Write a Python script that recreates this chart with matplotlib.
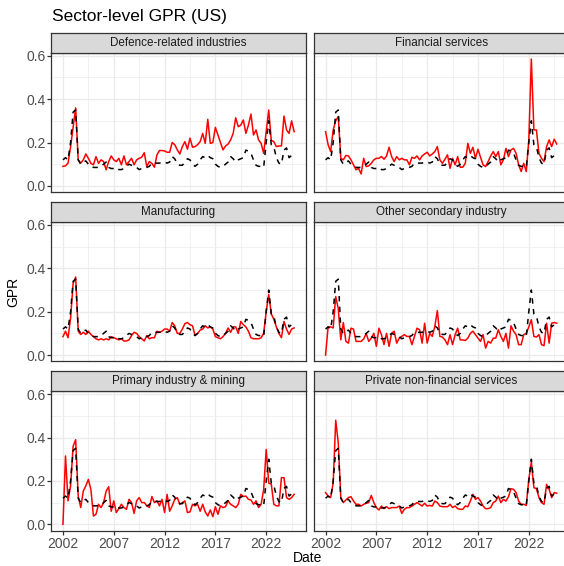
import numpy as np
import pandas as pd
import matplotlib
matplotlib.use('Agg')
import matplotlib.pyplot as plt

plt.rcParams['font.family'] = ['Liberation Sans', 'DejaVu Sans']

# Quarterly index, 2002Q1 - 2024Q4
quarters = pd.period_range('2002Q1', '2024Q4', freq='Q')
date = np.array(quarters.year + (quarters.quarter - 1) / 4.0, dtype=float)

# Aggregate US GPR (dashed, same in every panel)
gpr_total = [0.12, 0.13, 0.12, 0.20, 0.34, 0.35, 0.12, 0.10,
             0.11, 0.115, 0.10, 0.095, 0.085, 0.085, 0.085, 0.09,
             0.10, 0.11, 0.085, 0.08, 0.08, 0.085, 0.075, 0.075,
             0.08, 0.09, 0.10, 0.095, 0.09, 0.085, 0.075, 0.08,
             0.08, 0.085, 0.09, 0.105, 0.105, 0.105, 0.105, 0.11,
             0.11, 0.105, 0.11, 0.135, 0.125, 0.10, 0.095, 0.095,
             0.11, 0.125, 0.12, 0.10, 0.09, 0.10, 0.12, 0.135,
             0.13, 0.14, 0.13, 0.125, 0.10, 0.09, 0.085, 0.09,
             0.10, 0.11, 0.135, 0.125, 0.11, 0.12, 0.125, 0.13,
             0.165, 0.16, 0.15, 0.12, 0.095, 0.09, 0.09, 0.085,
             0.20, 0.30, 0.19, 0.18, 0.13, 0.105, 0.10, 0.165,
             0.175, 0.13, 0.14, 0.15]

defence = [0.09, 0.092, 0.105, 0.18, 0.27, 0.36, 0.12, 0.105,
           0.12, 0.147, 0.127, 0.104, 0.097, 0.135, 0.104, 0.12,
           0.112, 0.074, 0.112, 0.138, 0.12, 0.112, 0.127, 0.097,
           0.138, 0.097, 0.112, 0.127, 0.097, 0.12, 0.127, 0.132,
           0.153, 0.089, 0.112, 0.104, 0.086, 0.143, 0.163, 0.163,
           0.161, 0.155, 0.155, 0.20, 0.19, 0.166, 0.147, 0.181,
           0.204, 0.169, 0.22, 0.178, 0.181, 0.19, 0.204, 0.242,
           0.196, 0.307, 0.196, 0.20, 0.27, 0.235, 0.20, 0.166,
           0.184, 0.193, 0.212, 0.242, 0.314, 0.273, 0.28, 0.304,
           0.242, 0.28, 0.331, 0.235, 0.258, 0.212, 0.196, 0.15,
           0.25, 0.35, 0.21, 0.204, 0.181, 0.184, 0.184, 0.322,
           0.258, 0.242, 0.30, 0.25]

financial = [0.25, 0.19, 0.158, 0.258, 0.30, 0.32, 0.127, 0.12,
             0.14, 0.138, 0.12, 0.097, 0.074, 0.081, 0.055, 0.127,
             0.089, 0.092, 0.104, 0.12, 0.127, 0.127, 0.135, 0.123,
             0.138, 0.178, 0.135, 0.112, 0.135, 0.12, 0.127, 0.12,
             0.12, 0.097, 0.132, 0.127, 0.138, 0.12, 0.138, 0.147,
             0.155, 0.138, 0.147, 0.158, 0.181, 0.12, 0.104, 0.123,
             0.143, 0.081, 0.127, 0.097, 0.135, 0.086, 0.086, 0.104,
             0.196, 0.15, 0.178, 0.127, 0.169, 0.132, 0.097, 0.089,
             0.112, 0.138, 0.158, 0.135, 0.158, 0.097, 0.12, 0.173,
             0.135, 0.166, 0.173, 0.15, 0.097, 0.066, 0.104, 0.066,
             0.21, 0.585, 0.258, 0.258, 0.15, 0.127, 0.112, 0.181,
             0.212, 0.181, 0.215, 0.193]

manufacturing = [0.085, 0.11, 0.08, 0.17, 0.33, 0.36, 0.11, 0.095,
                 0.105, 0.095, 0.11, 0.095, 0.085, 0.075, 0.07, 0.075,
                 0.07, 0.075, 0.07, 0.085, 0.08, 0.075, 0.07, 0.075,
                 0.065, 0.065, 0.07, 0.09, 0.105, 0.10, 0.085, 0.075,
                 0.065, 0.09, 0.075, 0.08, 0.08, 0.11, 0.105, 0.11,
                 0.12, 0.12, 0.11, 0.15, 0.135, 0.10, 0.10, 0.12,
                 0.145, 0.15, 0.14, 0.135, 0.09, 0.10, 0.115, 0.12,
                 0.135, 0.125, 0.13, 0.12, 0.085, 0.08, 0.075, 0.085,
                 0.10, 0.125, 0.105, 0.13, 0.13, 0.10, 0.155, 0.14,
                 0.13, 0.11, 0.08, 0.075, 0.075, 0.075, 0.08, 0.10,
                 0.20, 0.28, 0.19, 0.165, 0.13, 0.10, 0.08, 0.155,
                 0.12, 0.095, 0.12, 0.125]

other_secondary = [0.0, 0.13, 0.13, 0.125, 0.27, 0.215, 0.07, 0.15,
                   0.063, 0.055, 0.124, 0.12, 0.063, 0.063, 0.063, 0.074,
                   0.10, 0.063, 0.078, 0.10, 0.04, 0.124, 0.094, 0.048,
                   0.10, 0.04, 0.10, 0.11, 0.055, 0.078, 0.086, 0.094,
                   0.086, 0.086, 0.048, 0.086, 0.124, 0.117, 0.055, 0.147,
                   0.055, 0.10, 0.086, 0.132, 0.205, 0.086, 0.083, 0.07,
                   0.048, 0.094, 0.048, 0.094, 0.124, 0.07, 0.07, 0.067,
                   0.078, 0.10, 0.11, 0.094, 0.078, 0.063, 0.094, 0.032,
                   0.063, 0.055, 0.078, 0.078, 0.117, 0.086, 0.063, 0.10,
                   0.032, 0.135, 0.11, 0.094, 0.048, 0.048, 0.094, 0.10,
                   0.13, 0.163, 0.086, 0.083, 0.094, 0.048, 0.043, 0.147,
                   0.055, 0.147, 0.15, 0.147]

primary = [0.0, 0.315, 0.108, 0.177, 0.36, 0.39, 0.13, 0.077,
           0.153, 0.177, 0.207, 0.16, 0.038, 0.046, 0.092, 0.077,
           0.10, 0.153, 0.173, 0.06, 0.108, 0.054, 0.072, 0.092,
           0.077, 0.069, 0.115, 0.10, 0.05, 0.108, 0.123, 0.10,
           0.10, 0.085, 0.077, 0.128, 0.10, 0.108, 0.085, 0.115,
           0.054, 0.138, 0.06, 0.085, 0.115, 0.123, 0.092, 0.10,
           0.108, 0.054, 0.057, 0.092, 0.085, 0.092, 0.06, 0.092,
           0.057, 0.038, 0.066, 0.035, 0.081, 0.046, 0.085, 0.077,
           0.081, 0.108, 0.092, 0.085, 0.077, 0.092, 0.138, 0.128,
           0.13, 0.115, 0.112, 0.092, 0.108, 0.077, 0.092, 0.16,
           0.345, 0.19, 0.185, 0.092, 0.085, 0.085, 0.215, 0.215,
           0.123, 0.115, 0.123, 0.138]

private_nonfin = [0.146, 0.13, 0.123, 0.19, 0.48, 0.376, 0.123, 0.10,
                  0.112, 0.123, 0.127, 0.107, 0.092, 0.092, 0.084, 0.092,
                  0.097, 0.10, 0.133, 0.10, 0.077, 0.066, 0.084, 0.072,
                  0.081, 0.072, 0.077, 0.077, 0.077, 0.084, 0.05, 0.069,
                  0.077, 0.077, 0.084, 0.092, 0.10, 0.092, 0.084, 0.097,
                  0.084, 0.087, 0.084, 0.107, 0.10, 0.084, 0.081, 0.081,
                  0.081, 0.092, 0.077, 0.084, 0.072, 0.069, 0.069, 0.084,
                  0.081, 0.107, 0.138, 0.115, 0.123, 0.107, 0.084, 0.072,
                  0.072, 0.077, 0.10, 0.107, 0.13, 0.10, 0.115, 0.107,
                  0.127, 0.164, 0.161, 0.146, 0.107, 0.092, 0.092, 0.087,
                  0.207, 0.287, 0.169, 0.164, 0.123, 0.10, 0.092, 0.184,
                  0.161, 0.123, 0.146, 0.143]

sectors = ['Defence-related industries', 'Financial services',
           'Manufacturing', 'Other secondary industry',
           'Primary industry & mining', 'Private non-financial services']
sector_gpr = [defence, financial, manufacturing, other_secondary,
              primary, private_nonfin]

year_ticks = [2002, 2007, 2012, 2017, 2022]
year_minor = [2004.5, 2009.5, 2014.5, 2019.5, 2024.5]
gpr_ticks = [0.0, 0.2, 0.4, 0.6]
gpr_minor = [0.1, 0.3, 0.5]

# facet layout in pixels
W, H = 564, 566
col_left = [51.4, 314.0]
row_top = [52.7, 221.9, 391.1]
pw, ph, sh = 254.3, 139.5, 20.0

fig = plt.figure(figsize=(W / 100, H / 100), dpi=100)

first = None
for k, (name, vals) in enumerate(zip(sectors, sector_gpr)):
    r, c = divmod(k, 2)
    x0 = col_left[c] / W
    y0 = 1 - (row_top[r] + ph) / H
    ax = fig.add_axes([x0, y0, pw / W, ph / H], sharex=first, sharey=first)
    if first is None:
        first = ax

    ax.plot(date, vals, color='red', lw=1.1, zorder=3)
    ax.plot(date, gpr_total, color='black', lw=1.1, ls=(0, (3.5, 3.5)), zorder=4)

    ax.set_xticks(year_ticks)
    ax.set_xticks(year_minor, minor=True)
    ax.set_yticks(gpr_ticks)
    ax.set_yticks(gpr_minor, minor=True)
    ax.grid(which='major', color='#EBEBEB', lw=1.0, zorder=0)
    ax.grid(which='minor', color='#EBEBEB', lw=0.5, zorder=0)
    ax.set_axisbelow(True)
    for s in ax.spines.values():
        s.set_color('#333333')
        s.set_linewidth(0.9)

    ax.tick_params(which='minor', length=0)
    ax.tick_params(which='major', length=2.75, width=0.9, color='#333333',
                   labelsize=10, labelcolor='#4D4D4D', pad=1.5)
    ax.tick_params(axis='x', bottom=(r == 2), labelbottom=(r == 2))
    ax.tick_params(axis='y', left=(c == 0), labelleft=(c == 0))
    ax.yaxis.set_major_formatter(plt.FormatStrFormatter('%.1f'))

    # facet strip
    st = fig.add_axes([x0, 1 - row_top[r] / H, pw / W, sh / H])
    st.set_facecolor('#D9D9D9')
    st.set_xticks([])
    st.set_yticks([])
    for s in st.spines.values():
        s.set_color('#333333')
        s.set_linewidth(0.9)
    st.text(0.5, 0.5, name, ha='center', va='center', fontsize=8.4,
            color='#1A1A1A', transform=st.transAxes)

fig.text(52 / W, 1 - 16 / H, 'Sector-level GPR (US)', fontsize=12.5,
         ha='left', va='center')
fig.text(13 / W, 1 - 292 / H, 'GPR', fontsize=10, rotation=90,
         ha='center', va='center')
fig.text(308 / W, 1 - 558 / H, 'Date', fontsize=10, ha='center', va='center')

fig.savefig('out.png', dpi=100)
